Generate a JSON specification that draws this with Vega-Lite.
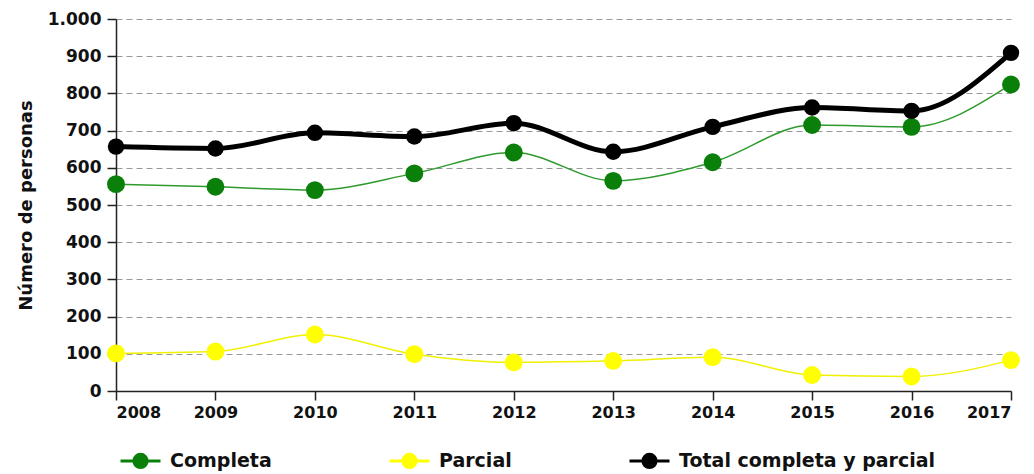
{
  "$schema": "https://vega.github.io/schema/vega-lite/v6.json",
  "width": 895,
  "height": 372,
  "autosize": "none",
  "padding": {"left": 116, "top": 19, "right": 23, "bottom": 83},
  "background": "white",
  "config": {
    "view": {"stroke": null},
    "font": "DejaVu Sans",
    "axis": {
      "labelFont": "DejaVu Sans",
      "labelFontWeight": "bold",
      "labelFontSize": 16,
      "labelColor": "#111",
      "domainColor": "#222",
      "domainWidth": 1.5,
      "tickColor": "#222",
      "tickWidth": 1.5,
      "tickSize": 9,
      "labelPadding": 4
    }
  },
  "data": {
    "values": [
      {"year": 2008, "series": "Completa", "value": 556},
      {"year": 2009, "series": "Completa", "value": 549},
      {"year": 2010, "series": "Completa", "value": 540},
      {"year": 2011, "series": "Completa", "value": 585},
      {"year": 2012, "series": "Completa", "value": 641},
      {"year": 2013, "series": "Completa", "value": 565},
      {"year": 2014, "series": "Completa", "value": 615},
      {"year": 2015, "series": "Completa", "value": 715},
      {"year": 2016, "series": "Completa", "value": 710},
      {"year": 2017, "series": "Completa", "value": 824},
      {"year": 2008, "series": "Parcial", "value": 101},
      {"year": 2009, "series": "Parcial", "value": 106},
      {"year": 2010, "series": "Parcial", "value": 152},
      {"year": 2011, "series": "Parcial", "value": 99},
      {"year": 2012, "series": "Parcial", "value": 77},
      {"year": 2013, "series": "Parcial", "value": 81},
      {"year": 2014, "series": "Parcial", "value": 91},
      {"year": 2015, "series": "Parcial", "value": 43},
      {"year": 2016, "series": "Parcial", "value": 39},
      {"year": 2017, "series": "Parcial", "value": 83},
      {"year": 2008, "series": "Total completa y parcial", "value": 657},
      {"year": 2009, "series": "Total completa y parcial", "value": 652},
      {"year": 2010, "series": "Total completa y parcial", "value": 694},
      {"year": 2011, "series": "Total completa y parcial", "value": 684},
      {"year": 2012, "series": "Total completa y parcial", "value": 720},
      {"year": 2013, "series": "Total completa y parcial", "value": 643},
      {"year": 2014, "series": "Total completa y parcial", "value": 710},
      {"year": 2015, "series": "Total completa y parcial", "value": 762},
      {"year": 2016, "series": "Total completa y parcial", "value": 753},
      {"year": 2017, "series": "Total completa y parcial", "value": 909}
    ]
  },
  "encoding": {
    "x": {
      "field": "year",
      "type": "quantitative",
      "scale": {"domain": [2008, 2017], "nice": false, "zero": false},
      "axis": {
        "title": null,
        "values": [2008, 2009, 2010, 2011, 2012, 2013, 2014, 2015, 2016, 2017],
        "format": "d",
        "grid": false,
        "labelPadding": 4
      }
    },
    "y": {
      "field": "value",
      "type": "quantitative",
      "scale": {"domain": [0, 1000], "nice": false},
      "axis": {
        "title": "Número de personas",
        "titleFont": "DejaVu Sans",
        "titleFontWeight": "bold",
        "titleFontSize": 18,
        "titleColor": "#111",
        "titlePadding": 12,
        "values": [0, 100, 200, 300, 400, 500, 600, 700, 800, 900, 1000],
        "labelExpr": "replace(datum.label, ',', '.')",
        "labelFontSize": 17,
        "labelPadding": 6,
        "grid": true,
        "gridColor": "#999999",
        "gridDash": [6, 4],
        "gridWidth": 1
      }
    }
  },
  "layer": [
    {
      "transform": [{"filter": "datum.series === 'Completa'"}],
      "mark": {"type": "line", "interpolate": "monotone", "color": "#2e9a2e", "strokeWidth": 1.5}
    },
    {
      "transform": [{"filter": "datum.series === 'Completa'"}],
      "mark": {"type": "point", "filled": true, "opacity": 1, "size": 320, "shape": "circle"},
      "encoding": {
        "color": {
          "field": "series",
          "type": "nominal",
          "scale": {
            "domain": ["Completa", "Parcial", "Total completa y parcial"],
            "range": ["#0a800a", "#ffff00", "#000000"]
          },
          "legend": {
            "title": null,
            "orient": "none",
            "legendX": 3,
            "legendY": 420,
            "direction": "horizontal",
            "columnPadding": 111,
            "padding": 0,
            "labelFont": "DejaVu Sans",
            "labelFontWeight": "bold",
            "labelFontSize": 19,
            "labelColor": "#111",
            "labelOffset": 8,
            "labelLimit": 400,
            "symbolType": "M-1,0L1,0M-0.33,0A0.33,0.33,0,1,1,0.33,0A0.33,0.33,0,1,1,-0.33,0Z",
            "symbolSize": 1600,
            "symbolOpacity": 1,
            "symbolStrokeWidth": 3,
            "encode": {
              "symbols": {
                "update": {
                  "fill": {"scale": "color", "field": "value"},
                  "stroke": {"scale": "color", "field": "value"},
                  "fillOpacity": {"value": 1},
                  "strokeOpacity": {"value": 1}
                }
              }
            }
          }
        }
      }
    },
    {
      "transform": [{"filter": "datum.series === 'Parcial'"}],
      "mark": {"type": "line", "interpolate": "monotone", "color": "#f0f000", "strokeWidth": 1.5}
    },
    {
      "transform": [{"filter": "datum.series === 'Parcial'"}],
      "mark": {"type": "point", "filled": true, "opacity": 1, "size": 320, "shape": "circle"},
      "encoding": {
        "color": {"field": "series", "type": "nominal", "legend": null}
      }
    },
    {
      "transform": [{"filter": "datum.series === 'Total completa y parcial'"}],
      "mark": {"type": "line", "interpolate": "monotone", "color": "#000000", "strokeWidth": 5}
    },
    {
      "transform": [{"filter": "datum.series === 'Total completa y parcial'"}],
      "mark": {"type": "point", "filled": true, "opacity": 1, "size": 270, "shape": "circle"},
      "encoding": {
        "color": {"field": "series", "type": "nominal", "legend": null}
      }
    }
  ]
}
